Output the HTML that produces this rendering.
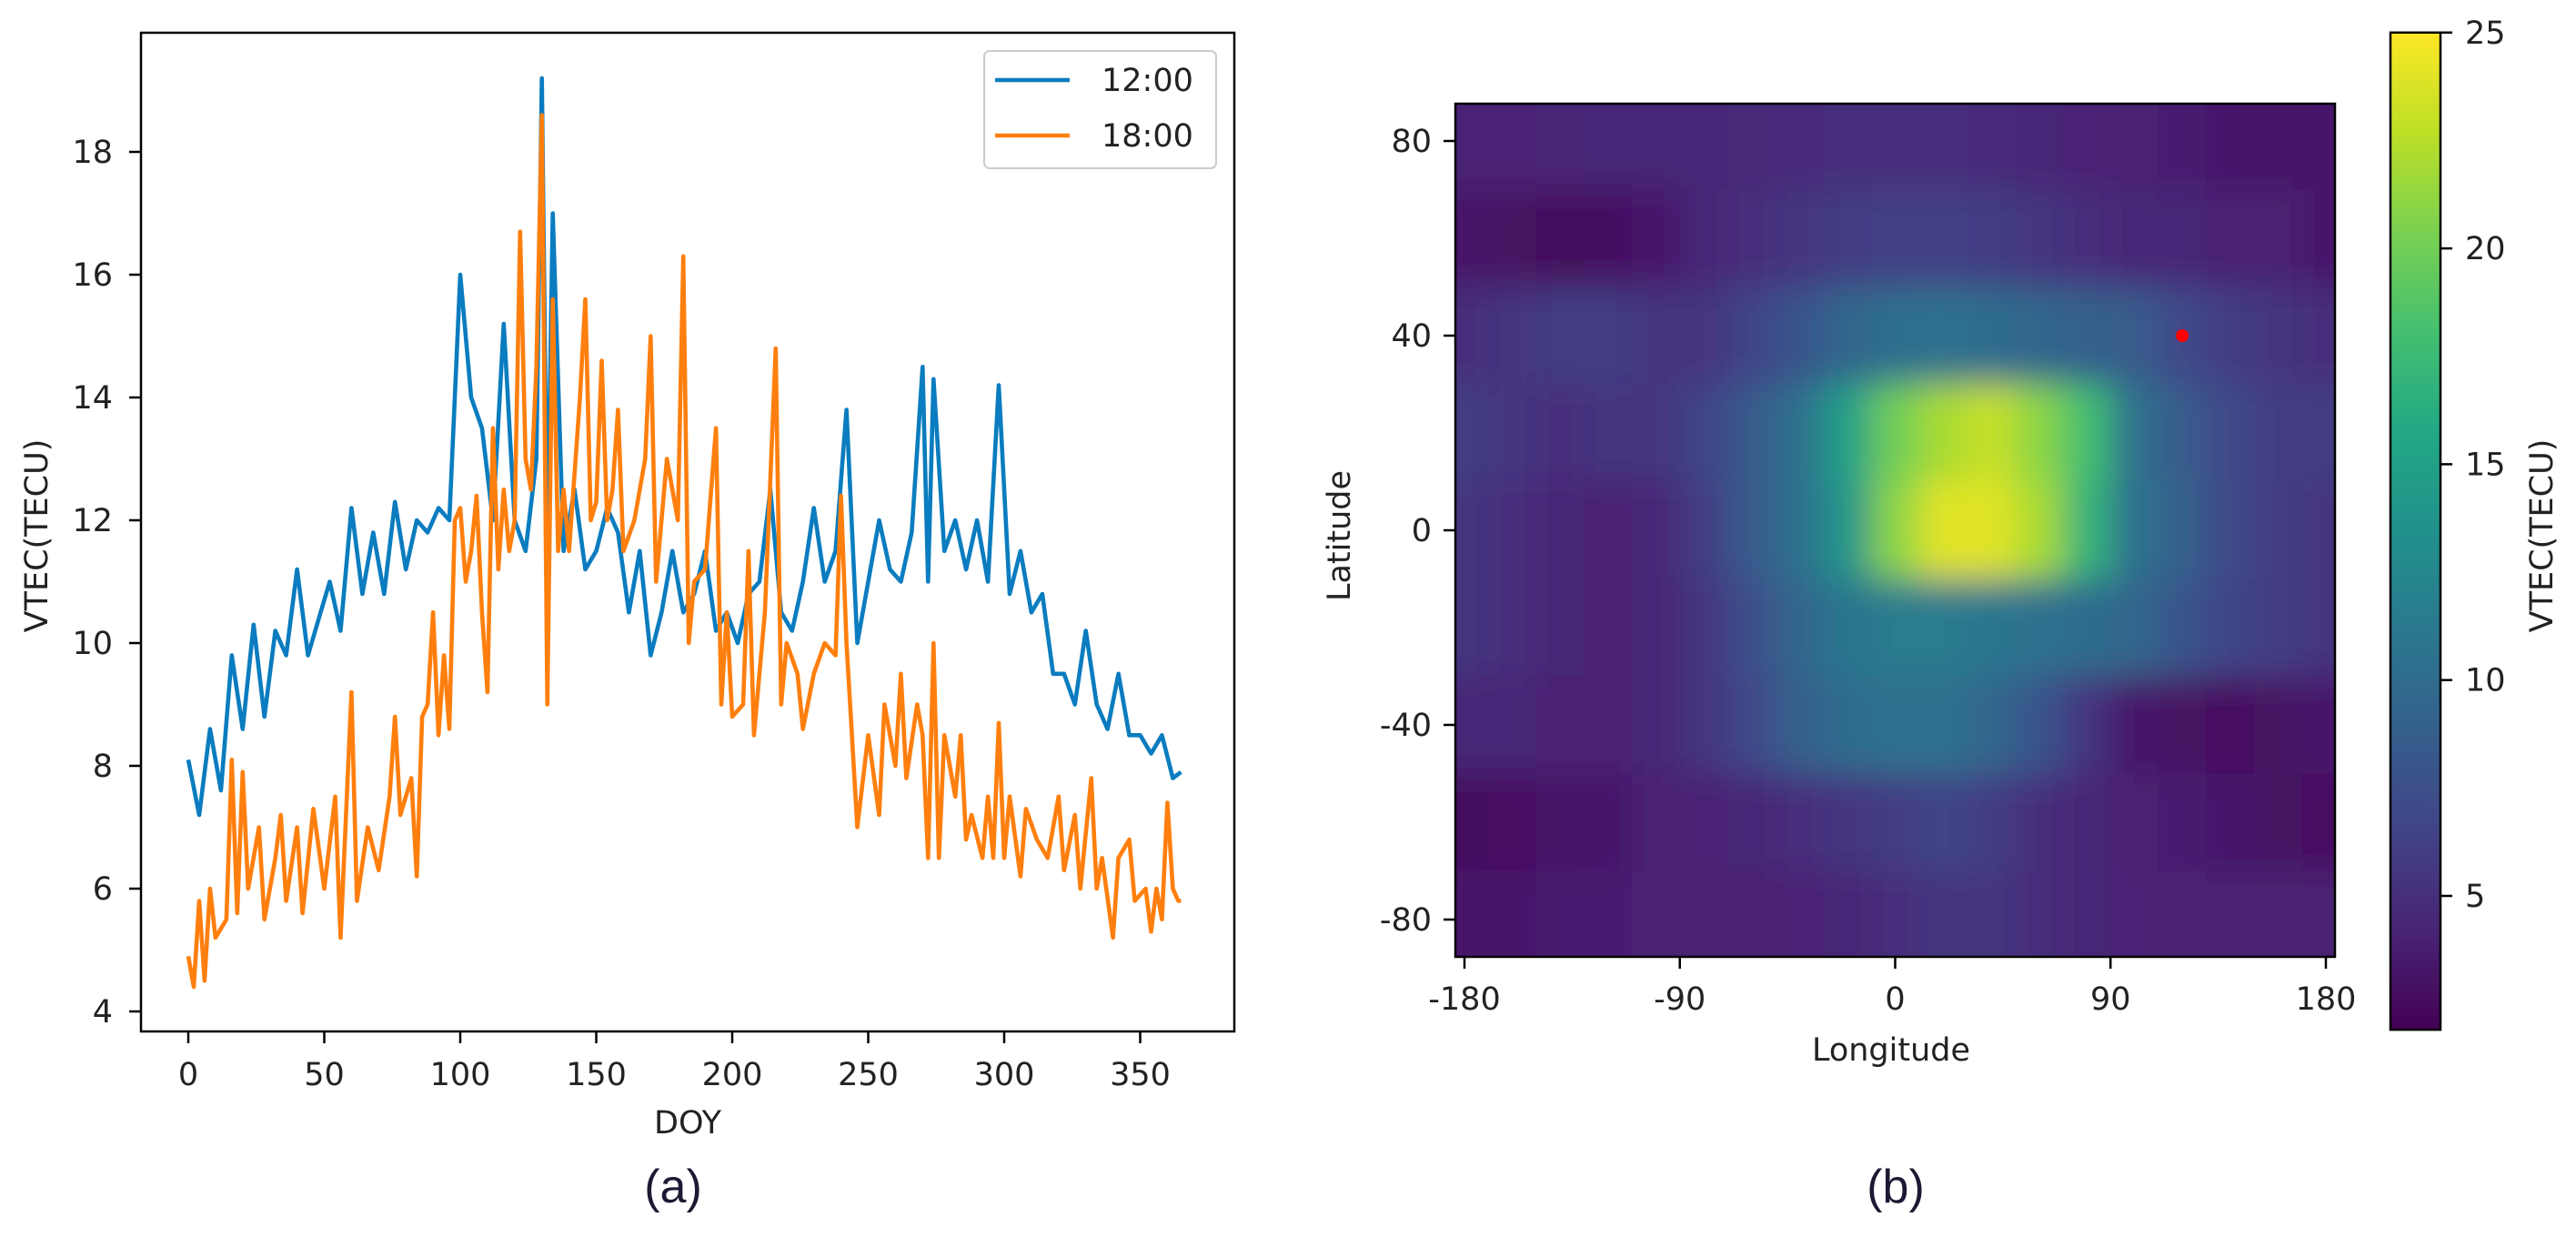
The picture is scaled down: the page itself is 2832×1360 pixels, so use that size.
<!DOCTYPE html>
<html><head><meta charset="utf-8"><style>
html,body{margin:0;padding:0;background:#fff;}
svg{display:block;font-family:"DejaVu Sans","Liberation Sans",sans-serif;}
</style></head><body>
<svg id="fig" width="2832" height="1360" viewBox="0 0 2832 1360" xmlns="http://www.w3.org/2000/svg">
<defs>
<clipPath id="hmclip"><rect x="1600" y="114" width="967" height="938"/></clipPath>
<filter id="blur" x="-20%" y="-20%" width="140%" height="140%"><feGaussianBlur stdDeviation="19"/></filter>
<linearGradient id="cbgrad" x1="0" y1="1" x2="0" y2="0">
<stop offset="0" stop-color="#440154"/><stop offset="0.1" stop-color="#482475"/><stop offset="0.2" stop-color="#414487"/><stop offset="0.3" stop-color="#355f8d"/><stop offset="0.4" stop-color="#2a788e"/><stop offset="0.5" stop-color="#21918c"/><stop offset="0.6" stop-color="#22a884"/><stop offset="0.7" stop-color="#44bf70"/><stop offset="0.8" stop-color="#7ad151"/><stop offset="0.9" stop-color="#bddf26"/><stop offset="1" stop-color="#fde725"/>
</linearGradient>
</defs>
<g id="panelA"></g>
<g id="panelB"></g>
</svg>
<script>
// ---------- Panel (a) data ----------
const blueDays = [0,4,8,12,16,20,24,28,32,36,40,44,48,52,56,60,64,68,72,76,80,84,88,92,96,100,104,108,112,116,120,124,128,130,132,134,138,142,146,150,154,158,162,166,170,174,178,182,186,190,194,198,202,206,210,214,218,222,226,230,234,238,242,246,250,254,258,262,266,270,272,274,278,282,286,290,294,298,302,306,310,314,318,322,326,330,334,338,342,346,350,354,358,362,365];
const blueVals = [8.1,7.2,8.6,7.6,9.8,8.6,10.3,8.8,10.2,9.8,11.2,9.8,10.4,11.0,10.2,12.2,10.8,11.8,10.8,12.3,11.2,12.0,11.8,12.2,12.0,16.0,14.0,13.5,12.0,15.2,12.0,11.5,13.0,19.2,11.5,17.0,11.5,12.5,11.2,11.5,12.2,11.8,10.5,11.5,9.8,10.5,11.5,10.5,10.8,11.5,10.2,10.5,10.0,10.8,11.0,12.5,10.5,10.2,11.0,12.2,11.0,11.5,13.8,10.0,11.0,12.0,11.2,11.0,11.8,14.5,11.0,14.3,11.5,12.0,11.2,12.0,11.0,14.2,10.8,11.5,10.5,10.8,9.5,9.5,9.0,10.2,9.0,8.6,9.5,8.5,8.5,8.2,8.5,7.8,7.9];
const orangeDays = [0,2,4,6,8,10,14,16,18,20,22,26,28,32,34,36,40,42,46,50,54,56,60,62,66,70,74,76,78,82,84,86,88,90,92,94,96,98,100,102,104,106,108,110,112,114,116,118,120,122,124,126,128,130,132,134,136,138,140,144,146,148,150,152,154,156,158,160,164,168,170,172,176,180,182,184,186,190,194,196,198,200,204,206,208,212,216,218,220,224,226,230,234,238,240,242,244,246,250,254,256,260,262,264,268,270,272,274,276,278,282,284,286,288,292,294,296,298,300,302,306,308,312,316,320,322,326,328,332,334,336,340,342,346,348,352,354,356,358,360,362,364,365];
const orangeVals = [4.9,4.4,5.8,4.5,6.0,5.2,5.5,8.1,5.6,7.9,6.0,7.0,5.5,6.5,7.2,5.8,7.0,5.6,7.3,6.0,7.5,5.2,9.2,5.8,7.0,6.3,7.5,8.8,7.2,7.8,6.2,8.8,9.0,10.5,8.5,9.8,8.6,12.0,12.2,11.0,11.5,12.4,10.5,9.2,13.5,11.2,12.5,11.5,12.0,16.7,13.0,12.5,14.5,18.6,9.0,15.6,11.5,12.5,11.5,14.0,15.6,12.0,12.3,14.6,12.0,12.5,13.8,11.5,12.0,13.0,15.0,11.0,13.0,12.0,16.3,10.0,11.0,11.2,13.5,9.0,10.5,8.8,9.0,11.5,8.5,10.5,14.8,9.0,10.0,9.5,8.6,9.5,10.0,9.8,12.4,10.0,8.5,7.0,8.5,7.2,9.0,8.0,9.5,7.8,9.0,8.5,6.5,10.0,6.5,8.5,7.5,8.5,6.8,7.2,6.5,7.5,6.5,8.7,6.5,7.5,6.2,7.3,6.8,6.5,7.5,6.3,7.2,6.0,7.8,6.0,6.5,5.2,6.5,6.8,5.8,6.0,5.3,6.0,5.5,7.4,6.0,5.8,5.8];
const xTicksA = [0,50,100,150,200,250,300,350];
const yTicksA = [4,6,8,10,12,14,16,18];
const legendLabels = ["12:00","18:00"];

// ---------- Panel (b) data ----------
const lonCenters = [-180,-160,-140,-120,-100,-80,-60,-40,-20,0,20,40,60,80,100,120,140,160,180];
const latCenters = [80,60,40,20,0,-20,-40,-60,-80];
const tecRow80  = [4.2,4.2,4.3,4.5,4.5,4.5,4.6,4.8,5,5,5,4.8,4.5,4.2,4,3.8,3.5,3.2,3.5];
const tecRow60  = [3.2,3,2.5,2.6,3.5,4.5,5,5.5,6,6.3,6.3,6,5.5,5,4.5,4.5,4,4,3.5];
const tecRow40  = [5,5.5,6,6,5.5,5.5,6.5,8,9.5,10.2,10.5,10,9.5,9,8.5,7,6,5.5,5];
const tecRow20  = [6,5.5,5,5.5,5.5,6.5,8.5,10.5,15,20,22,23,21,18,10.5,8.5,7,6,6];
const tecRow0   = [5.5,5,4.5,4,4.5,6,8.5,10.5,14,21,24,24,22,17,10.5,9,7,6,5.5];
const tecRowM20 = [5.5,5,4.5,4,4.5,5.5,7.5,9.5,11,11.5,11.5,11,10.5,10,9.5,8,6.5,6,5.5];
const tecRowM40 = [4.5,4.5,4,4,4.5,5.5,7,9,10,10.5,10.5,9.5,8,5.5,3.5,3,2.8,3,3.5];
const tecRowM60 = [2.5,2.8,3.2,3.5,4,4.2,4.5,5,5.5,6,6.5,6,5,4.5,4,3.8,3.5,3,2.8];
const tecRowM80 = [3.5,3.5,3.8,3.8,4,4,4,4.2,4.5,5,5.5,5.5,5,4.5,4.2,4,4,4,4];
const tecGrid = [tecRow80,tecRow60,tecRow40,tecRow20,tecRow0,tecRowM20,tecRowM40,tecRowM60,tecRowM80];
const stationLon = [120];
const stationLat = [40];
const lonTicks = [-180,-90,0,90,180];
const latTicks = [80,40,0,-40,-80];
const cbTicks = [5,10,15,20,25];

const NS = "http://www.w3.org/2000/svg";
function mk(tag, attrs, parent, text){
  const e = document.createElementNS(NS, tag);
  for (const k in attrs) e.setAttribute(k, attrs[k]);
  if (text !== undefined) e.textContent = text;
  parent.appendChild(e);
  return e;
}

// ---------- Panel (a) ----------
const A = document.getElementById('panelA');
const ax = d => 207 + d * 2.99;
const ay = v => 1112 - (v - 4) * 67.5;
const frameA = mk('rect', {x:155, y:36, width:1202, height:1098, fill:'#fff', stroke:'#000', 'stroke-width':2.5}, A);



function series(days, vals, color, name){
  let d = '';
  days.forEach((day, i) => { d += (i ? 'L' : 'M') + ax(day).toFixed(1) + ' ' + ay(vals[i]).toFixed(1); });
  const p = mk('path', {d:d, fill:'none', stroke:color, 'stroke-width':4.6, 'stroke-linejoin':'round'}, A);
  
  
}
series(blueDays, blueVals, '#0a7cbf', 'series-12-00');
series(orangeDays, orangeVals, '#ff7f0e', 'series-18-00');

xTicksA.forEach(t => {
  mk('line', {x1:ax(t), x2:ax(t), y1:1134, y2:1147, stroke:'#000', 'stroke-width':2.5}, A);
  const tx = mk('text', {x:ax(t), y:1193, 'font-size':35, 'text-anchor':'middle', fill:'#222'}, A, String(t));
  
  
});
yTicksA.forEach(t => {
  mk('line', {x1:142, x2:155, y1:ay(t), y2:ay(t), stroke:'#000', 'stroke-width':2.5}, A);
  const tx = mk('text', {x:124, y:ay(t) + 12, 'font-size':35, 'text-anchor':'end', fill:'#222'}, A, String(t));
  
  
});
const xtA = mk('text', {x:756, y:1246, 'font-size':35, 'text-anchor':'middle', fill:'#222'}, A, 'DOY');


const ytA = mk('text', {x:0, y:0, 'font-size':35, 'text-anchor':'middle', fill:'#222', transform:'translate(52,589) rotate(-90)'}, A, 'VTEC(TECU)');


const capA = mk('text', {x:740, y:1322, 'font-size':52, 'text-anchor':'middle', fill:'#1a1a33', 'font-family':'Liberation Sans, sans-serif'}, A, '(a)');



const leg = mk('g', {}, A);


mk('rect', {x:1082, y:56, width:255, height:129, rx:6, fill:'#fff', stroke:'#ccc', 'stroke-width':2}, leg);
const legColors = ['#0a7cbf', '#ff7f0e'];
legendLabels.forEach((lab, i) => {
  const y = 88 + i * 61;
  const g = mk('g', {}, leg);
  
  
  mk('line', {x1:1094, x2:1176, y1:y, y2:y, stroke:legColors[i], 'stroke-width':4.6}, g);
  mk('text', {x:1211, y:y + 12, 'font-size':35, fill:'#222'}, g, lab);
});

// ---------- Panel (b) ----------
const B = document.getElementById('panelB');
const bx = lon => 1610 + (lon + 180) * (947 / 360);
const by = lat => 583 - lat * (856 / 160);
const vmin = 1.9, vmax = 25;
const stops = [[68,1,84],[72,36,117],[65,68,135],[53,95,141],[42,120,142],[33,145,140],[34,168,132],[68,191,112],[122,209,81],[189,223,38],[253,231,37]];
function viridis(v){
  let t = Math.max(0, Math.min(1, (v - vmin) / (vmax - vmin))) * 10;
  const i = Math.min(9, Math.floor(t)), f = t - i;
  const c = stops[i].map((s, k) => Math.round(s + (stops[i + 1][k] - s) * f));
  return 'rgb(' + c.join(',') + ')';
}
const hmClip = mk('g', {'clip-path':'url(#hmclip)'}, B);


mk('rect', {x:1600, y:114, width:967, height:938, fill:viridis(5)}, hmClip);
const cells = mk('g', {filter:'url(#blur)'}, hmClip);
const cw = 20 * 947 / 360, ch = 20 * 856 / 160;
latCenters.forEach((lat, r) => {
  lonCenters.forEach((lon, c) => {
    const extraL = c === 0 ? 60 : 0, extraR = c === lonCenters.length - 1 ? 60 : 0;
    const extraT = r === 0 ? 60 : 0, extraB = r === latCenters.length - 1 ? 60 : 0;
    const cell = mk('rect', {x:bx(lon) - cw / 2 - extraL, y:by(lat) - ch / 2 - extraT, width:cw + 0.8 + extraL + extraR, height:ch + 0.8 + extraT + extraB, fill:viridis(tecGrid[r][c])}, cells);
    
    
  });
});
const frameB = mk('rect', {x:1600, y:114, width:967, height:938, fill:'none', stroke:'#000', 'stroke-width':2.5}, B);


stationLon.forEach((lon, i) => {
  const dot = mk('circle', {cx:bx(lon), cy:by(stationLat[i]), r:7, fill:'#ff0000'}, B);
  
  
});
lonTicks.forEach(t => {
  mk('line', {x1:bx(t), x2:bx(t), y1:1052, y2:1065, stroke:'#000', 'stroke-width':2.5}, B);
  const tx = mk('text', {x:bx(t), y:1110, 'font-size':35, 'text-anchor':'middle', fill:'#222'}, B, String(t));
  
  
});
latTicks.forEach(t => {
  mk('line', {x1:1587, x2:1600, y1:by(t), y2:by(t), stroke:'#000', 'stroke-width':2.5}, B);
  const tx = mk('text', {x:1574, y:by(t) + 12, 'font-size':35, 'text-anchor':'end', fill:'#222'}, B, String(t));
  
  
});
const xtB = mk('text', {x:2079, y:1166, 'font-size':35, 'text-anchor':'middle', fill:'#222'}, B, 'Longitude');


const ytB = mk('text', {x:0, y:0, 'font-size':35, 'text-anchor':'middle', fill:'#222', transform:'translate(1484,589) rotate(-90)'}, B, 'Latitude');


const capB = mk('text', {x:2084, y:1322, 'font-size':52, 'text-anchor':'middle', fill:'#1a1a33', 'font-family':'Liberation Sans, sans-serif'}, B, '(b)');



// colorbar
const cby = v => 985 - (v - 5) * 47.46;
const cb = mk('rect', {x:2628, y:cby(25), width:55, height:cby(vmin) - cby(25), fill:'url(#cbgrad)', stroke:'#000', 'stroke-width':2.5}, B);


cbTicks.forEach(t => {
  mk('line', {x1:2683, x2:2696, y1:cby(t), y2:cby(t), stroke:'#000', 'stroke-width':2.5}, B);
  const tx = mk('text', {x:2710, y:cby(t) + 12, 'font-size':35, fill:'#222'}, B, String(t));
  
  
});
const cbl = mk('text', {x:0, y:0, 'font-size':35, 'text-anchor':'middle', fill:'#222', transform:'translate(2806,589) rotate(-90)'}, B, 'VTEC(TECU)');


</script>
</body></html>
